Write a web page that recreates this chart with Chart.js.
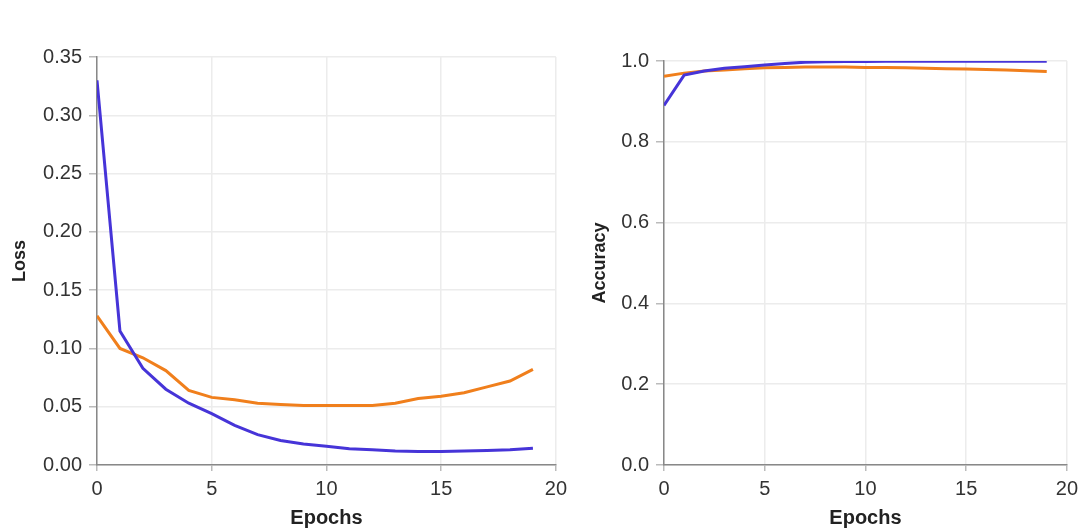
<!DOCTYPE html>
<html>
<head>
<meta charset="utf-8">
<script src="https://cdn.jsdelivr.net/npm/chart.js@4/dist/chart.umd.min.js"></script>
<style>
    body { margin: 0; background: #fff; overflow: hidden; }
    .panel { position: absolute; top: 0; height: 531px; }
    #left-panel { left: 0; width: 573px; }
    #right-panel { left: 570px; width: 514px; }
</style>
</head>
<body>
<div class="panel" id="left-panel"><canvas id="lossChart"></canvas></div>
<div class="panel" id="right-panel"><canvas id="accChart"></canvas></div>
<script>
// training history
const epochs = [0, 1, 2, 3, 4, 5, 6, 7, 8, 9, 10, 11, 12, 13, 14, 15, 16, 17, 18, 19];
const trainLoss = [0.330, 0.115, 0.083, 0.065, 0.053, 0.044, 0.034, 0.026, 0.021, 0.018,
                   0.016, 0.014, 0.013, 0.012, 0.0115, 0.0115, 0.012, 0.0125, 0.013, 0.0143];
const valLoss = [0.128, 0.100, 0.092, 0.081, 0.064, 0.058, 0.056, 0.053, 0.052, 0.051,
                 0.051, 0.051, 0.051, 0.053, 0.057, 0.059, 0.062, 0.067, 0.072, 0.082];
const trainAcc = [0.890, 0.965, 0.975, 0.982, 0.986, 0.990, 0.994, 0.997, 0.998, 0.999,
                  0.999, 0.9995, 0.9995, 0.9995, 0.9995, 0.9995, 0.9995, 0.9995, 0.9995, 0.9995];
const valAcc = [0.962, 0.970, 0.975, 0.978, 0.981, 0.983, 0.984, 0.985, 0.985, 0.985,
                0.984, 0.984, 0.983, 0.982, 0.981, 0.980, 0.979, 0.978, 0.976, 0.974];

const BLUE = '#4634d8';
const ORANGE = '#f07f1c';
const FONT = "'Liberation Sans', Arial, sans-serif";

function toPoints(values) {
    return values.map((v, i) => ({ x: epochs[i], y: v }));
}

// one panel: loss or accuracy against epochs
function makeChart(id, yTitle, series, yMax, yStep, yWidth, top, titlePad) {
    const ctx = document.getElementById(id);
    return new Chart(ctx, {
        type: 'line',
        data: {
            datasets: series.map(s => ({
                data: toPoints(s.values),
                borderColor: s.color,
                backgroundColor: s.color,
                borderWidth: 3,
                pointRadius: 0,
                tension: 0
            }))
        },
        options: {
            responsive: true,
            maintainAspectRatio: false,
            animation: false,
            layout: { padding: { top: top, right: 0, left: 0, bottom: 0 } },
            plugins: { legend: { display: false }, tooltip: { enabled: false } },
            scales: {
                x: {
                    type: 'linear',
                    min: 0,
                    max: 20,
                    ticks: { stepSize: 5, color: '#333', font: { family: FONT, size: 20 }, padding: 6 },
                    grid: { color: '#ececec', lineWidth: 1.5, tickLength: 6, tickColor: '#bbb' },
                    border: { color: '#888', width: 1.5 },
                    title: { display: true, text: 'Epochs', color: '#222', padding: { top: 0, bottom: 1 },
                             font: { family: FONT, size: 20, weight: 'bold' } },
                    afterFit: scale => { scale.height = 66; }
                },
                y: {
                    min: 0,
                    max: yMax,
                    ticks: { stepSize: yStep, color: '#333', font: { family: FONT, size: 20 }, padding: 7,
                             callback: v => v.toFixed(yStep < 0.1 ? 2 : 1) },
                    grid: { color: '#ececec', lineWidth: 1.5, tickLength: 8, tickColor: '#bbb' },
                    border: { color: '#888', width: 1.5 },
                    title: { display: true, text: yTitle, color: '#222', padding: { top: titlePad, bottom: 0 },
                             font: { family: FONT, size: 18, weight: 'bold' } },
                    afterFit: scale => { scale.width = yWidth; }
                }
            }
        }
    });
}

makeChart('lossChart', 'Loss', [
    { values: trainLoss, color: BLUE },
    { values: valLoss, color: ORANGE }
], 0.35, 0.05, 97, 57, 9);

makeChart('accChart', 'Accuracy', [
    { values: trainAcc, color: BLUE },
    { values: valAcc, color: ORANGE }
], 1.0, 0.2, 94, 61, 19);
</script>
</body>
</html>
